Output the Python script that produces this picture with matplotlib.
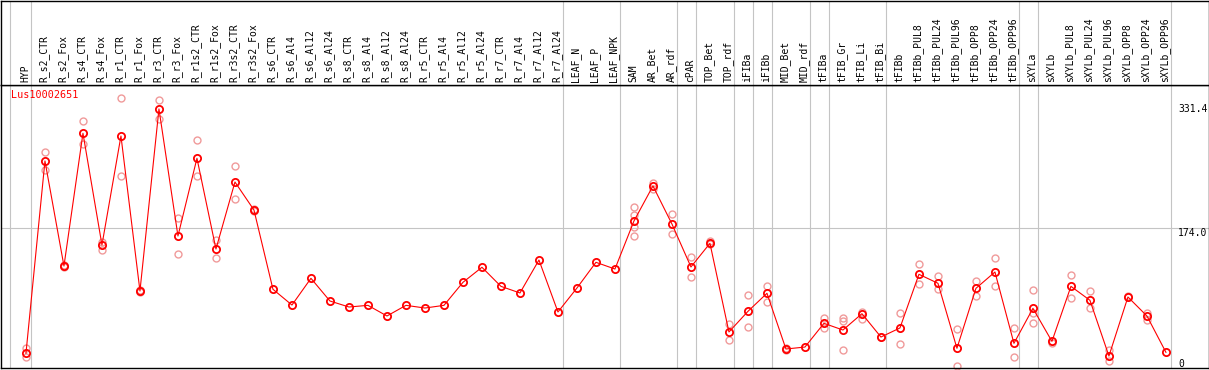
import matplotlib
matplotlib.use('Agg')
import matplotlib.pyplot as plt
import numpy as np

# Samples (column labels)
samples = ['HYP', 'R_s2_CTR', 'R_s2_Fox', 'R_s4_CTR', 'R_s4_Fox', 'R_r1_CTR', 'R_r1_Fox',
           'R_r3_CTR', 'R_r3_Fox', 'R_r1s2_CTR', 'R_r1s2_Fox', 'R_r3s2_CTR', 'R_r3s2_Fox',
           'R_s6_CTR', 'R_s6_Al4', 'R_s6_Al12', 'R_s6_Al24', 'R_s8_CTR', 'R_s8_Al4',
           'R_s8_Al12', 'R_s8_Al24', 'R_r5_CTR', 'R_r5_Al4', 'R_r5_Al12', 'R_r5_Al24',
           'R_r7_CTR', 'R_r7_Al4', 'R_r7_Al12', 'R_r7_Al24', 'LEAF_N', 'LEAF_P', 'LEAF_NPK',
           'SAM', 'AR_Bet', 'AR_rdf', 'cPAR', 'TOP_Bet', 'TOP_rdf', 'iFIBa', 'iFIBb',
           'MID_Bet', 'MID_rdf', 'tFIBa', 'tFIB_Gr', 'tFIB_Li', 'tFIB_Bi', 'tFIBb',
           'tFIBb_PUL8', 'tFIBb_PUL24', 'tFIBb_PUL96', 'tFIBb_OPP8', 'tFIBb_OPP24',
           'tFIBb_OPP96', 'sXYLa', 'sXYLb', 'sXYLb_PUL8', 'sXYLb_PUL24', 'sXYLb_PUL96',
           'sXYLb_OPP8', 'sXYLb_OPP24', 'sXYLb_OPP96']

# mean expression per sample
means = [14.8, 258.9, 125.6, 294.0, 152.3, 290.6, 93.9, 324.9, 163.7, 262.3, 147.2, 232.2,
         196.7, 96.1, 76.1, 110.0, 81.2, 73.6, 75.7, 62.2, 75.7, 72.3, 75.7, 104.9, 124.0,
         99.8, 91.4, 133.2, 67.3, 97.7, 130.3, 121.8, 182.7, 227.2, 178.9, 124.4, 154.4,
         41.9, 68.1, 91.0, 20.3, 22.8, 52.9, 44.4, 65.1, 35.5, 47.0, 115.1, 103.7, 21.2,
         97.3, 118.0, 27.5, 71.9, 30.0, 99.8, 82.1, 11.4, 86.3, 62.2, 16.1]

# individual replicates per sample
replicates = [[21.2, 10.5], [269.9, 247.5], [124.0, 127.0], [309.0, 280.5], [156.5, 146.0],
              [338.4, 240.3], [93.0, 94.8], [336.3, 311.8], [186.2, 140.9], [285.1, 240.3],
              [158.6, 135.4], [252.1, 210.3], [196.0, 197.5],
              [], [], [], [], [], [], [], [], [], [], [], [], [], [], [], [], [], [], [],
              [200.9, 190.4, 175.5, 163.7], [231.4, 223.0], [191.6, 166.2], [137.4, 111.7],
              [157.4, 153.0], [52.0, 31.3], [88.8, 48.2], [100.3, 80.4], [21.5, 19.5], [],
              [60.1, 47.4], [60.1, 56.3, 18.6], [67.7, 58.8], [36.0], [65.6, 27.0],
              [127.8, 102.4], [112.6, 96.1], [45.3, -1.3], [106.6, 88.0], [135.4, 99.8],
              [46.5, 9.8], [94.8, 65.6, 52.9], [27.5], [113.8, 84.6], [93.9, 71.9],
              [19.0, 5.1], [87.0], [65.6, 57.1], []]

# group separators (placed after these sample indices)
group_ends = [0, 28, 31, 34, 35, 37, 38, 39, 41, 42, 45, 52, 53, 60]
gene = 'Lus10002651'
y_ticks = [331.4, 174.0]

W, H = 1209, 370
fig = plt.figure(figsize=(W / 100, H / 100), dpi=100)
ax = fig.add_axes([0.5 / W, 2 / H, 1208 / W, 283 / H])
hx = fig.add_axes([0.5 / W, 285 / H, 1208 / W, 84.5 / H], sharex=ax)

x = np.arange(len(samples))
xlim = (-1.34, 62.24)
ax.set_xlim(*xlim)
ax.set_ylim(-3.8, 355.3)
hx.set_ylim(0, 1)

mono = 'DejaVu Sans Mono'
gray = '#c4c4c4'

seps = [-0.84] + [g + 0.24 for g in group_ends]
for s in seps:
    ax.axvline(s, color=gray, lw=0.8, zorder=0)
    hx.axvline(s, color=gray, lw=0.8, zorder=0)
ax.axhline(y_ticks[1], color=gray, lw=0.8, zorder=0)

# replicates
rx, ry = [], []
for i, reps in enumerate(replicates):
    for v in reps:
        rx.append(i)
        ry.append(v)
ax.plot(rx, ry, 'o', ms=5, mfc='none', mec='#f09a9a', mew=1.0, zorder=2, clip_on=False)

ax.plot(x, means, '-', color='red', lw=0.8, zorder=3)
ax.plot(x, means, 'o', ms=5.2, mfc='none', mec='red', mew=1.3, zorder=4)

for i, s in enumerate(samples):
    hx.text(i - 0.05, 0.03, s, rotation=90, ha='center', va='bottom',
            family=mono, fontsize=7)

ax.text(-0.84 + 0.05, 343, gene, color='red', family=mono, fontsize=7.3,
        ha='left', va='center')
for v in y_ticks:
    ax.text(60.63, v, f'{v:.1f}', family=mono, fontsize=7, ha='left', va='top')
ax.text(60.63, 7.6, '0', family=mono, fontsize=7, ha='left', va='top')

for a in (ax, hx):
    a.set_xticks([])
    a.set_yticks([])
    for sp in a.spines.values():
        sp.set_color('black')
        sp.set_linewidth(1.0)

fig.savefig('out.png', dpi=100)
